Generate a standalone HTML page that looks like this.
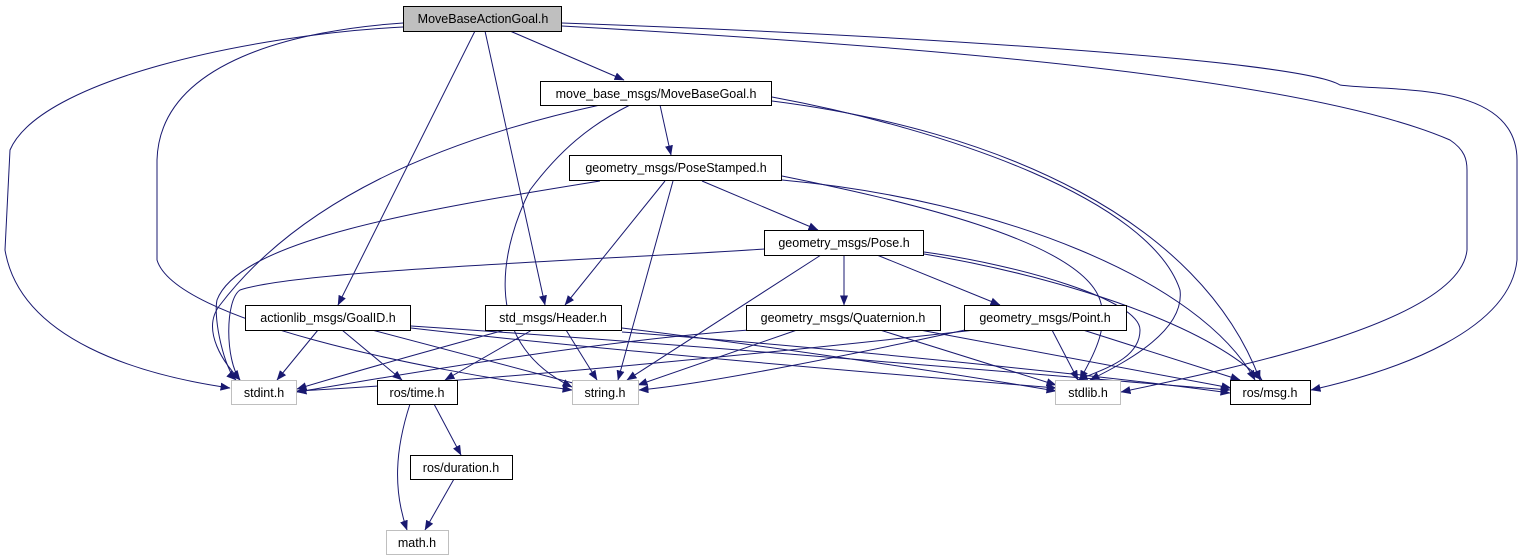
<!DOCTYPE html>
<html><head><meta charset="utf-8"><style>
html,body{margin:0;padding:0;background:#fff;}
svg{display:block;}
text{font-family:"Liberation Sans",sans-serif;font-size:12.5px;fill:#000;}
</style></head><body>
<svg width="1523" height="560" viewBox="0 0 1523 560" xmlns="http://www.w3.org/2000/svg">
<defs>
<marker id="a" markerWidth="10" markerHeight="8" refX="9.5" refY="4" orient="auto" markerUnits="userSpaceOnUse">
<path d="M0,0 L10,4 L0,8 Z" fill="#191970"/>
</marker>
</defs>
<g fill="none" stroke="#191970" stroke-width="1" marker-end="url(#a)">
<!-- MoveBaseActionGoal -->
<path d="M403,27 C250,35 40,80 10,150 L5,250 C20,340 140,375 230,388"/>
<path d="M403,23 C300,30 160,60 157,160 L157,260 C175,320 420,370 572,390"/>
<path d="M475,31 L338,305"/>
<path d="M485,31 L545,305"/>
<path d="M510,31 L624,80"/>
<path d="M562,23 C900,35 1300,60 1340,85 C1390,92 1517,80 1517,160 L1517,260 C1510,330 1400,370 1311,390"/>
<path d="M562,26 C900,45 1300,75 1450,140 C1465,150 1467,160 1467,170 L1467,250 C1460,320 1250,365 1121,392"/>
<!-- MoveBaseGoal -->
<path d="M600,105 C440,140 300,200 220,305 C200,330 225,365 240,380"/>
<path d="M630,105 C590,125 560,150 530,190 C505,240 475,340 572,387"/>
<path d="M660,105 L671,155"/>
<path d="M772,97 C950,130 1150,200 1180,290 C1185,330 1130,360 1090,380"/>
<path d="M772,101 C1000,130 1200,220 1260,380"/>
<!-- PoseStamped -->
<path d="M600,181 C420,210 240,240 217,300 C213,320 225,370 236,380"/>
<path d="M665,181 L565,305"/>
<path d="M673,181 L618,380"/>
<path d="M702,181 L818,230"/>
<path d="M782,176 C900,200 1080,240 1100,300 C1110,330 1090,360 1080,380"/>
<path d="M782,180 C1000,200 1200,280 1255,380"/>
<!-- Pose -->
<path d="M764,249 C600,260 300,270 240,290 C225,300 225,360 240,380"/>
<path d="M821,255 L627,380"/>
<path d="M844,255 L844,305"/>
<path d="M877,255 L1000,305"/>
<path d="M924,252 C1020,265 1140,300 1140,330 C1140,360 1100,370 1078,380"/>
<path d="M924,254 C1050,275 1200,320 1262,380"/>
<!-- GoalID -->
<path d="M318,330 L277,380"/>
<path d="M342,330 L402,380"/>
<path d="M372,330 L588,387"/>
<path d="M411,328 C600,350 900,375 1056,388"/>
<path d="M411,326 C700,345 1100,380 1230,390"/>
<!-- Header -->
<path d="M505,330 C450,345 360,370 297,389"/>
<path d="M532,330 L445,380"/>
<path d="M566,330 L597,380"/>
<path d="M622,328 C800,350 980,378 1056,391"/>
<path d="M622,332 C800,345 1100,375 1230,393"/>
<!-- Quaternion -->
<path d="M750,330 C600,340 400,375 297,392"/>
<path d="M797,330 L638,385"/>
<path d="M880,330 L1056,385"/>
<path d="M920,330 L1231,388"/>
<!-- Point -->
<path d="M975,330 C800,350 500,380 297,391"/>
<path d="M965,330 C850,355 700,385 639,390"/>
<path d="M1052,330 L1078,380"/>
<path d="M1083,330 L1240,380"/>
<!-- ros/time -->
<path d="M434,404 L461,455"/>
<path d="M410,404 C395,450 393,490 407,530"/>
<!-- duration -->
<path d="M454,479 L425,530"/>
</g>
<g stroke-width="1">
<rect x="403.5" y="6.5" width="158" height="25" fill="#bfbfbf" stroke="#000"/>
<rect x="540.5" y="81.5" width="231" height="24" fill="#fff" stroke="#000"/>
<rect x="569.5" y="155.5" width="212" height="25" fill="#fff" stroke="#000"/>
<rect x="764.5" y="230.5" width="159" height="25" fill="#fff" stroke="#000"/>
<rect x="245.5" y="305.5" width="165" height="25" fill="#fff" stroke="#000"/>
<rect x="485.5" y="305.5" width="136" height="25" fill="#fff" stroke="#000"/>
<rect x="746.5" y="305.5" width="194" height="25" fill="#fff" stroke="#000"/>
<rect x="964.5" y="305.5" width="162" height="25" fill="#fff" stroke="#000"/>
<rect x="231.5" y="380.5" width="65" height="24" fill="#fff" stroke="#bfbfbf"/>
<rect x="377.5" y="380.5" width="80" height="24" fill="#fff" stroke="#000"/>
<rect x="572.5" y="380.5" width="66" height="24" fill="#fff" stroke="#bfbfbf"/>
<rect x="1055.5" y="380.5" width="65" height="24" fill="#fff" stroke="#bfbfbf"/>
<rect x="1230.5" y="380.5" width="80" height="24" fill="#fff" stroke="#000"/>
<rect x="410.5" y="455.5" width="102" height="24" fill="#fff" stroke="#000"/>
<rect x="386.5" y="530.5" width="62" height="24" fill="#fff" stroke="#bfbfbf"/>
</g>
<g text-anchor="middle">
<text x="483" y="23">MoveBaseActionGoal.h</text>
<text x="656" y="98">move_base_msgs/MoveBaseGoal.h</text>
<text x="676" y="172">geometry_msgs/PoseStamped.h</text>
<text x="844" y="247">geometry_msgs/Pose.h</text>
<text x="328" y="322">actionlib_msgs/GoalID.h</text>
<text x="553" y="322">std_msgs/Header.h</text>
<text x="843" y="322">geometry_msgs/Quaternion.h</text>
<text x="1045" y="322">geometry_msgs/Point.h</text>
<text x="264" y="397">stdint.h</text>
<text x="417" y="397">ros/time.h</text>
<text x="605" y="397">string.h</text>
<text x="1088" y="397">stdlib.h</text>
<text x="1270" y="397">ros/msg.h</text>
<text x="461" y="472">ros/duration.h</text>
<text x="417" y="547">math.h</text>
</g>
</svg>
</body></html>
